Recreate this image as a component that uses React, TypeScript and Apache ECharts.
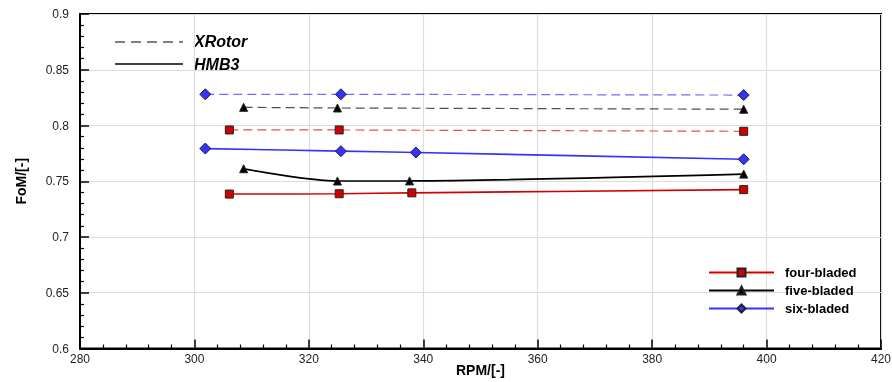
import React, { useEffect, useRef } from "react";
import * as echarts from "echarts";

const fourRpmXR = [306.1, 325.3, 396.0];
const fourXR = [0.796, 0.796, 0.7948];
const fiveRpmXR = [308.6, 325.0, 396.0];
const fiveXR = [0.8163, 0.8157, 0.8146];
const sixRpmXR = [301.9, 325.6, 396.0];
const sixXR = [0.828, 0.828, 0.8273];

const fourRpmH = [306.1, 325.3, 338.0, 396.0];
const fourH = [0.7385, 0.7388, 0.7396, 0.7425];
const fiveRpmH = [308.6, 325.0, 337.6, 396.0];
const fiveH = [0.7612, 0.7502, 0.7503, 0.7564];
const sixRpmH = [301.9, 325.6, 338.7, 396.0];
const sixH = [0.7793, 0.7770, 0.7758, 0.7697];

const xTitle = "RPM/[-]";
const yTitle = "FoM/[-]";

const pairs = (xs: number[], ys: number[]) => xs.map((x, i) => [x, ys[i]]);

const FONT = "Liberation Sans, Arial, Helvetica, sans-serif";

export default function App() {
  const ref = useRef<HTMLDivElement>(null);
  useEffect(() => {
    if (!ref.current) return;
    const chart = echarts.init(ref.current, undefined, { renderer: "svg" });
    const red = "#d40000";
    const blue = "#3333ff";
    const mk = (
      name: string,
      data: number[][],
      color: string,
      fill: string,
      symbol: string,
      size: number | number[],
      dashed: boolean,
      smooth: number
    ) => ({
      type: "line",
      name,
      data,
      smooth,
      symbol,
      symbolSize: size,
      showAllSymbol: true,
      itemStyle: { color: fill, borderColor: "#222", borderWidth: 1 },
      lineStyle: dashed
        ? { color, width: 1.2, type: [9, 5], opacity: 0.85 }
        : { color, width: 1.6 },
      z: dashed ? 2 : 3,
    });
    chart.setOption({
      animation: false,
      textStyle: { fontFamily: FONT },
      grid: {
        left: 80,
        right: 11,
        top: 14,
        bottom: 33.5,
        show: true,
        borderColor: "#000",
        borderWidth: 2,
        outerBoundsMode: "none",
        containLabel: false,
      },
      xAxis: {
        type: "value",
        min: 280,
        max: 420,
        interval: 20,
        axisLine: { lineStyle: { color: "#000", width: 2 } },
        axisTick: { inside: true, length: 9, lineStyle: { color: "#000", width: 1.5 } },
        minorTick: { show: true, splitNumber: 5, length: 4, lineStyle: { color: "#000", width: 1.2 } },
        axisLabel: { color: "#222", fontSize: 12, margin: 4, fontFamily: FONT },
        splitLine: { show: true, lineStyle: { color: "#dcdcdc", width: 1.2 } },
      },
      yAxis: {
        type: "value",
        min: 0.6,
        max: 0.9,
        interval: 0.05,
        name: yTitle,
        nameLocation: "middle",
        nameGap: 52,
        nameTextStyle: { fontWeight: "bold", fontSize: 14, color: "#000", fontFamily: FONT },
        axisLine: { show: true, lineStyle: { color: "#000", width: 2 } },
        axisTick: { show: true, inside: true, length: 9, lineStyle: { color: "#000", width: 1.5 } },
        minorTick: { show: true, splitNumber: 5, length: 4, lineStyle: { color: "#000", width: 1.2 } },
        axisLabel: {
          color: "#222",
          fontSize: 12,
          margin: 11,
          fontFamily: FONT,
          formatter: (v: number) => String(parseFloat(v.toFixed(2))),
        },
        splitLine: { show: true, lineStyle: { color: "#dcdcdc", width: 1.2 } },
      },
      legend: {
        orient: "vertical",
        left: 703,
        top: 261,
        itemWidth: 65,
        itemHeight: 10,
        itemGap: 5,
        data: ["four-bladed", "five-bladed", "six-bladed"],
        textStyle: { fontWeight: "bold", fontSize: 13, color: "#000", fontFamily: FONT, padding: [0, 0, 0, 6] },
        selectedMode: false,
      },
      graphic: [
        { type: "line", shape: { x1: 115, y1: 42, x2: 183, y2: 42 }, style: { stroke: "#000", lineWidth: 1.2, lineDash: [10, 6] } },
        { type: "line", shape: { x1: 115, y1: 64, x2: 183, y2: 64 }, style: { stroke: "#000", lineWidth: 1.4 } },
        { type: "text", x: 194, y: 41, style: { text: "XRotor", font: "italic bold 16px " + FONT, fill: "#000", textVerticalAlign: "middle" } },
        { type: "text", x: 194, y: 64, style: { text: "HMB3", font: "italic bold 16px " + FONT, fill: "#000", textVerticalAlign: "middle" } },
        {
          type: "text",
          x: 480.5,
          y: 370,
          style: {
            text: xTitle,
            font: "bold 14px " + FONT,
            fill: "#000",
            textAlign: "center",
            textVerticalAlign: "middle",
          },
        },
      ],
      series: [
        mk("six-bladed XRotor", pairs(sixRpmXR, sixXR), "#5555ff", blue, "diamond", [11, 11], true, 0),
        mk("five-bladed XRotor", pairs(fiveRpmXR, fiveXR), "#333", "#000", "triangle", 8, true, 0),
        mk("four-bladed XRotor", pairs(fourRpmXR, fourXR), "#dd3333", red, "rect", 8, true, 0),
        mk("six-bladed", pairs(sixRpmH, sixH), blue, blue, "diamond", [11, 11], false, 0.3),
        mk("five-bladed", pairs(fiveRpmH, fiveH), "#000", "#000", "triangle", 8, false, 0.3),
        mk("four-bladed", pairs(fourRpmH, fourH), red, red, "rect", 8, false, 0.3),
      ],
    });
    return () => chart.dispose();
  }, []);
  return (
    <div
      ref={ref}
      style={{ position: "fixed", left: 0, top: 0, width: 892, height: 382 }}
    />
  );
}
